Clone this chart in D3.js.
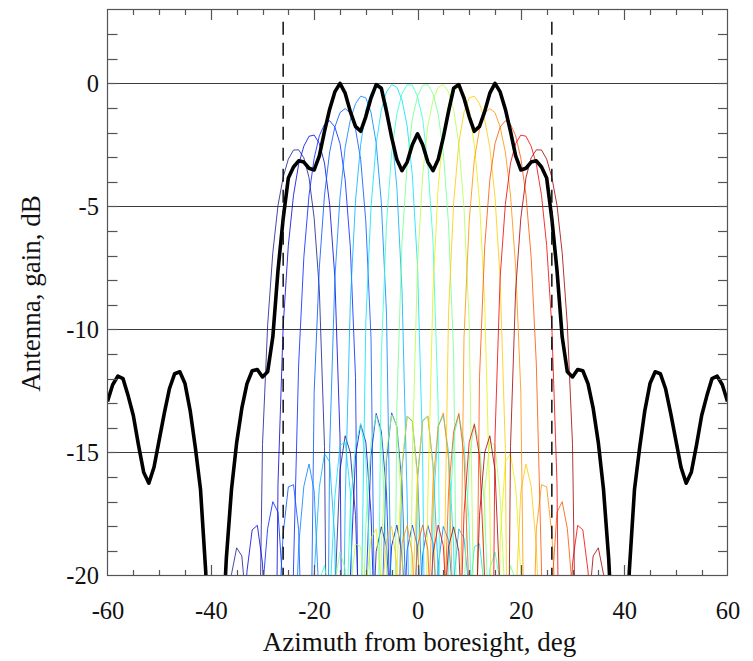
<!DOCTYPE html>
<html><head><meta charset="utf-8">
<script src="https://cdn.jsdelivr.net/npm/d3@7"></script>
<style>
html,body{margin:0;padding:0;background:#fff;}
svg{display:block;}
text{font-family:"Liberation Serif","Times New Roman",serif;fill:#111;}
</style></head><body>
<svg id="chart" width="753" height="661"></svg>
<script>
// ---------------- data ----------------
const xTickLabels = [-60, -40, -20, 0, 20, 40, 60];
const yTickLabels = [-20, -15, -10, -5, 0];
const gridLevelsDb = [-15, -10, -5, 0];
const scanLimitsDeg = [-26, 26];

// sample grid of azimuth (deg)
const azimuthDeg = d3.range(-60, 61, 1);

// thick black composite pattern (dB), azimuth -60..60 step 1
const envelopeDb = [
  -12.93,-12.25,-11.9,-12.0,-12.7,-13.5,-14.7,-15.8,-16.25,-15.6,
  -14.5,-13.4,-12.4,-11.8,-11.72,-12.2,-13.3,-14.8,-16.5,-19.8,
  -25,-30,-23.5,-19.3,-16.5,-14.6,-13.2,-12.2,-11.68,-11.63,
  -11.93,-11.72,-10.3,-7.6,-5.5,-3.85,-3.4,-3.15,-3.2,-3.45,
  -3.52,-2.95,-1.95,-1.05,-0.35,0,-0.4,-1.15,-1.75,-1.95,
  -1.35,-0.6,-0.05,-0.2,-1.15,-2.2,-3.1,-3.55,-3.2,-2.5,
  -2.05,
  -2.5,-3.2,-3.55,-3.1,-2.2,-1.15,-0.2,-0.05,-0.6,-1.35,
  -1.95,-1.75,-1.15,-0.4,0,-0.35,-1.05,-1.95,-2.95,-3.52,
  -3.45,-3.2,-3.15,-3.4,-3.85,-5.5,-7.6,-10.3,-11.72,-11.93,
  -11.63,-11.68,-12.2,-13.2,-14.6,-16.5,-19.3,-23.5,-30,-25,
  -19.8,-16.5,-14.8,-13.3,-12.2,-11.72,-11.8,-12.4,-13.4,-14.5,
  -15.6,-16.25,-15.8,-14.7,-13.5,-12.7,-12.0,-11.9,-12.25,-12.93
];

// beam pointing directions (deg)
const beamCentersDeg = [-24, -20.9, -17.6, -14.4, -11.2, -8, -4.8, -1.6,
                        1.6, 4.8, 8, 11.2, 14.4, 17.6, 20.9, 24];

// single-beam lobe shape (dB) vs offset in sine space (units of null spacing)
const lobeOffsets = [0,0.1,0.2,0.3,0.4,0.5,0.6,0.7,0.8,0.9,1.0,
                     1.1,1.2,1.3,1.4,1.5,1.6,1.7,1.8,1.9,2.0,
                     2.1,2.2,2.3,2.4,2.5,2.6,2.7,2.8,2.9,3.0];
const lobeShapeDb = [0,-0.08,-0.35,-0.8,-1.5,-2.6,-4.2,-6.6,-10.3,-17.0,-40,
                     -21.0,-16.1,-14.1,-13.3,-13.5,-14.5,-16.4,-19.7,-25.7,-40,
                     -26.6,-21.4,-19.0,-18.0,-17.9,-18.7,-20.4,-23.5,-29.4,-40];
const lobeNullSpacingU = 0.116;

// element gain roll-off (dB) vs |azimuth| (deg)
const elementAnglesDeg = [0, 5, 8, 10, 12, 15, 20, 25, 30, 35, 40, 45, 50, 55, 60];
const elementGainDb    = [0, -0.03, -0.1, -0.3, -0.7, -1.12, -1.95, -2.9, -4.1, -5.5, -7.2, -9, -11, -13, -15];

// ---------------- styles ----------------
const beamColors = ["#1a1a90","#0000d8","#0020ff","#0050ff","#0080ff","#00b0ff","#00e0ff","#30ffd0",
                    "#70ff90","#b0ff50","#e8f000","#ffc800","#ff9000","#ff5000","#f00000","#a00000"];

// ---------------- layout ----------------
const W = 753, H = 661;
const plot = {left: 107.5, right: 727.5, top: 9.5, bottom: 575.5};
const svg = d3.select("#chart");
svg.append("rect").attr("width", W).attr("height", H).attr("fill", "#fff");

const x = d3.scaleLinear().domain([-60, 60]).range([plot.left, plot.right]);
const y = d3.scaleLinear().domain([-20, 3]).range([plot.bottom, plot.top]);

svg.append("clipPath").attr("id", "clip").append("rect")
  .attr("x", plot.left).attr("y", plot.top)
  .attr("width", plot.right - plot.left).attr("height", plot.bottom - plot.top);

// grid
svg.append("g").selectAll("line").data(gridLevelsDb).join("line")
  .attr("x1", plot.left).attr("x2", plot.right)
  .attr("y1", d => Math.round(y(d)) + 0.5).attr("y2", d => Math.round(y(d)) + 0.5)
  .attr("stroke", "#3a3a3a").attr("stroke-width", 1);

// helpers for table lookup
const lookup = (xs, ys, v) => {
  if (v >= xs[xs.length - 1]) return ys[ys.length - 1];
  const i = d3.bisectRight(xs, v) - 1;
  const t = (v - xs[i]) / (xs[i + 1] - xs[i]);
  return ys[i] + t * (ys[i + 1] - ys[i]);
};
const rad = Math.PI / 180;
const beamSeries = beamCentersDeg.map(c => azimuthDeg.map(a => {
  const off = Math.abs(Math.sin(a * rad) - Math.sin(c * rad)) / lobeNullSpacingU;
  const lobe = off >= 3 ? -40 : lookup(lobeOffsets, lobeShapeDb, off);
  return [a, lobe + lookup(elementAnglesDeg, elementGainDb, Math.abs(a))];
}));

const line = d3.line().x(d => x(d[0])).y(d => y(d[1]));
const dataG = svg.append("g").attr("clip-path", "url(#clip)");

dataG.selectAll("path.beam").data(beamSeries).join("path")
  .attr("class", "beam")
  .attr("d", line)
  .attr("fill", "none")
  .attr("stroke", (d, i) => beamColors[i])
  .attr("stroke-opacity", 0.8)
  .attr("stroke-width", 1)
  .attr("stroke-linejoin", "miter");

dataG.append("path")
  .datum(azimuthDeg.map((a, i) => [a, envelopeDb[i]]))
  .attr("d", line)
  .attr("fill", "none")
  .attr("stroke", "#000")
  .attr("stroke-width", 3.6)
  .attr("stroke-linejoin", "round");

// scan-limit dashed lines
svg.append("g").selectAll("line").data(scanLimitsDeg).join("line")
  .attr("x1", d => x(d)).attr("x2", d => x(d))
  .attr("y1", y(2.5)).attr("y2", y(-20))
  .attr("stroke", "#111").attr("stroke-width", 1.5)
  .attr("stroke-dasharray", "13,8");

// frame
svg.append("rect")
  .attr("x", plot.left).attr("y", plot.top)
  .attr("width", plot.right - plot.left).attr("height", plot.bottom - plot.top)
  .attr("fill", "none").attr("stroke", "#555").attr("stroke-width", 1.2);

// axes (ticks inward)
const xMinor = d3.range(-55, 60, 5);
const yMinor = d3.range(-19, 3, 1);
const ax = svg.append("g").attr("stroke", "#555").attr("stroke-width", 1.2);
xMinor.forEach(v => {
  const len = (v % 20 === 0) ? 10.5 : 5.5;
  const px = Math.round(x(v)) + 0.5;
  ax.append("line").attr("x1", px).attr("x2", px).attr("y1", plot.top).attr("y2", plot.top + len);
  ax.append("line").attr("x1", px).attr("x2", px).attr("y1", plot.bottom).attr("y2", plot.bottom - len);
});
yMinor.forEach(v => {
  const py = Math.round(y(v)) + 0.5;
  ax.append("line").attr("x1", plot.left).attr("x2", plot.left + 10).attr("y1", py).attr("y2", py);
  ax.append("line").attr("x1", plot.right).attr("x2", plot.right - 9.5).attr("y1", py).attr("y2", py);
});

// tick labels via d3 axes (domain/tick lines hidden)
const fmt = d => String(d);
const xAxis = d3.axisBottom(x).tickValues(xTickLabels).tickSize(0).tickPadding(0).tickFormat(fmt);
const gx = svg.append("g").attr("transform", `translate(0,${plot.bottom})`).call(xAxis);
gx.select(".domain").remove();
gx.selectAll("text").attr("font-size", 24.5).attr("font-family", null).attr("fill", "#111").attr("dy", null).attr("y", 43);

const yAxis = d3.axisLeft(y).tickValues(yTickLabels).tickSize(0).tickPadding(0).tickFormat(fmt);
const gy = svg.append("g").attr("transform", `translate(${plot.left},0)`).call(yAxis);
gy.select(".domain").remove();
gy.selectAll("text").attr("font-size", 24.5).attr("font-family", null).attr("fill", "#111").attr("x", -8.5).attr("dy", "0.33em");

// axis titles
svg.append("text").attr("x", (plot.left + plot.right) / 2 + 2).attr("y", 651)
  .attr("text-anchor", "middle").attr("font-size", 27)
  .text("Azimuth from boresight, deg");
svg.append("text").attr("transform", `translate(40,${(plot.top + plot.bottom) / 2 + 1}) rotate(-90)`)
  .attr("text-anchor", "middle").attr("font-size", 27)
  .text("Antenna, gain, dB");
</script>
</body></html>
